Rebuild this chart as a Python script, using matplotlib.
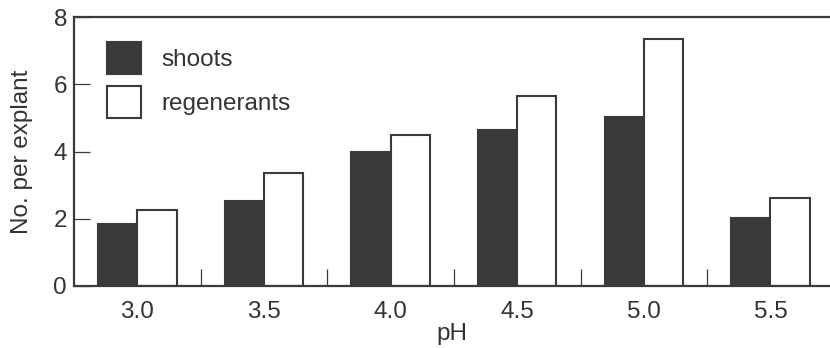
import numpy as np
import matplotlib.pyplot as plt
from matplotlib.ticker import FixedLocator, NullFormatter

plt.rcParams['font.family'] = ['Liberation Sans', 'DejaVu Sans']

# Data
ph_labels = ['3.0', '3.5', '4.0', '4.5', '5.0', '5.5']
shoots = [1.85, 2.54, 4.0, 4.64, 5.02, 2.01]
regenerants = [2.26, 3.36, 4.49, 5.66, 7.34, 2.62]

DARK = '#3a3a3a'
TEXT = '#333333'
BAR_W = 0.31
FS = 17.5

fig = plt.figure(figsize=(8.3, 3.48), dpi=100)
ax = fig.add_axes([74 / 830, 62 / 348, 1 - 74 / 830, 269 / 348])

x = np.arange(len(ph_labels))
ax.bar(x - BAR_W / 2, shoots, width=BAR_W, color=DARK, edgecolor=DARK,
       linewidth=1.5, label='shoots')
ax.bar(x + BAR_W / 2, regenerants, width=BAR_W, color='white', edgecolor=DARK,
       linewidth=1.5, label='regenerants')

ax.set_xlim(-0.5, 5.47)
ax.set_ylim(0, 8)

for side in ['left', 'top', 'bottom']:
    ax.spines[side].set_linewidth(1.6)
    ax.spines[side].set_color(DARK)
ax.spines['right'].set_visible(False)

ax.set_xticks(x)
ax.set_xticklabels(ph_labels)
ax.xaxis.set_minor_locator(FixedLocator(x[:-1] + 0.5))
ax.xaxis.set_minor_formatter(NullFormatter())
ax.tick_params(axis='x', which='major', length=0, pad=11, labelsize=FS,
               labelcolor=TEXT)
ax.tick_params(axis='x', which='minor', direction='in', length=12,
               width=0.9, color=DARK)

ax.set_yticks([0, 2, 4, 6, 8])
ax.tick_params(axis='y', direction='in', length=11.5, width=0.9, color=DARK,
               pad=5, labelsize=FS, labelcolor=TEXT)

ax.set_xlabel('pH', fontsize=FS, color=TEXT, labelpad=0)
ax.set_ylabel('No. per explant', fontsize=FS, color=TEXT, labelpad=15)

ax.legend(loc='upper left', bbox_to_anchor=(0.0437, 0.907), frameon=False,
          fontsize=FS, handlelength=1.4, handleheight=1.65, labelspacing=0.5,
          handletextpad=0.85, borderpad=0, borderaxespad=0,
          labelcolor=TEXT)

fig.savefig('out.png', dpi=100)
